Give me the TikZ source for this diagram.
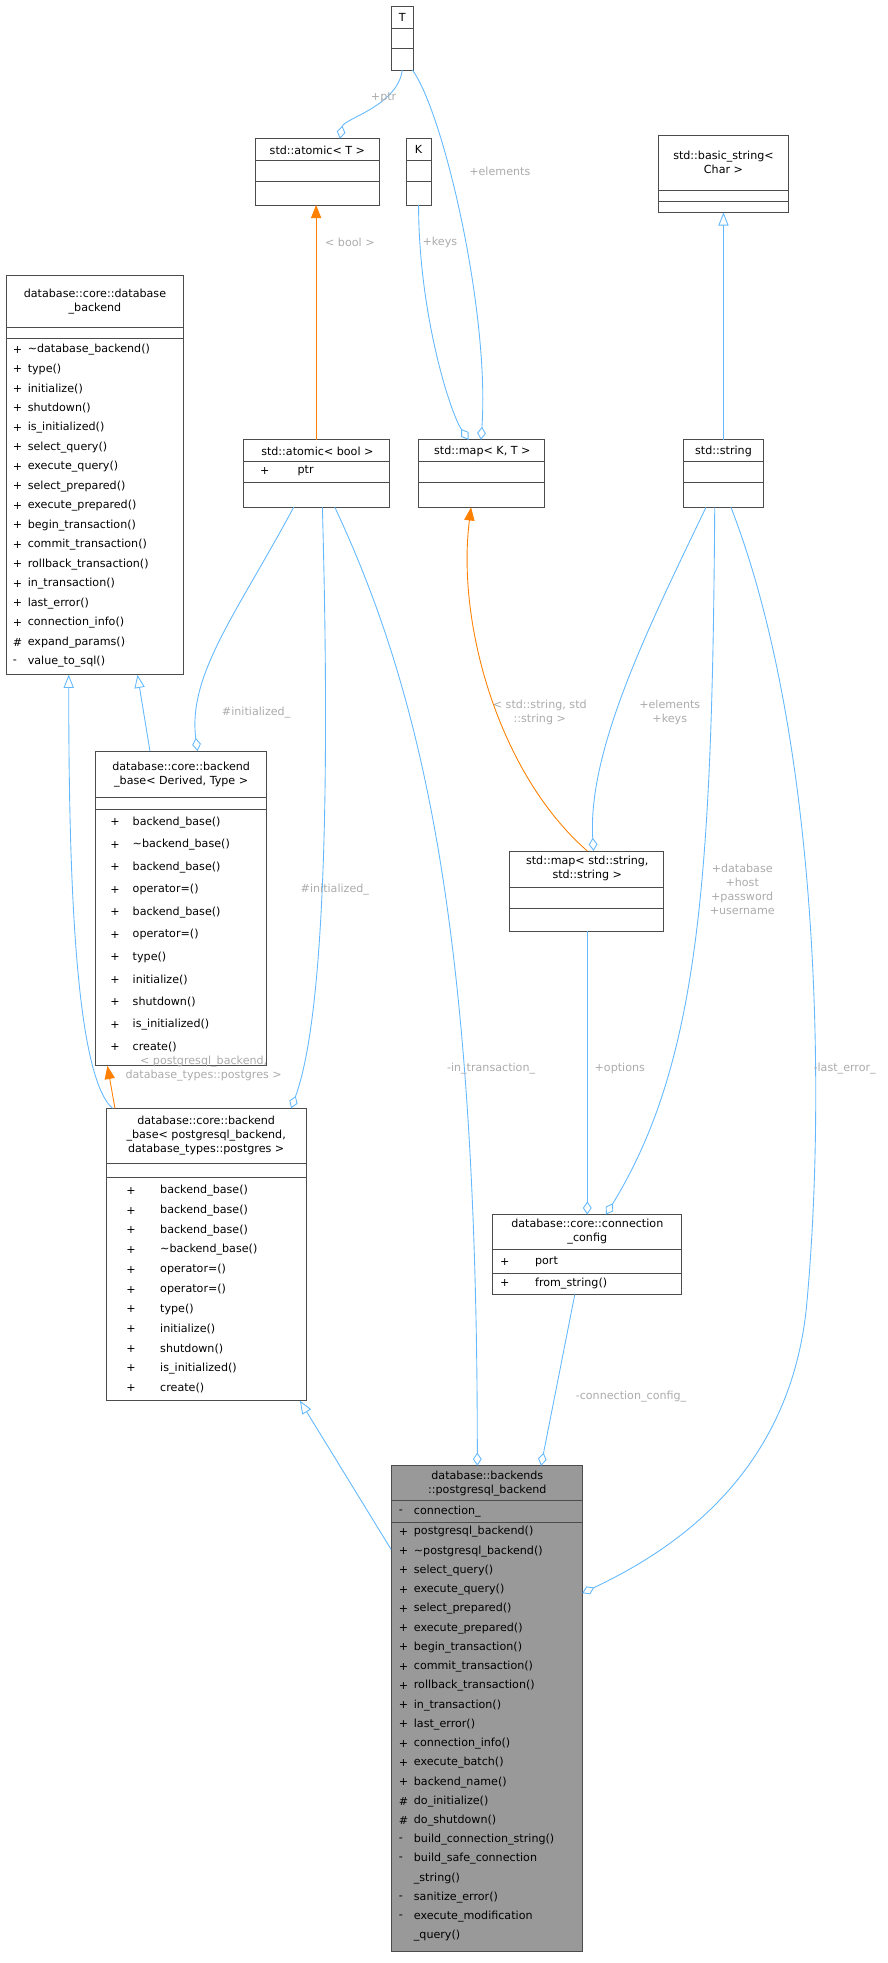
\documentclass[tikz,border=0pt]{standalone}
\usepackage{fontspec}
\setmainfont{DejaVu Sans}
\usetikzlibrary{arrows.meta,fit}
\definecolor{edgeblue}{HTML}{63B8FF}
\definecolor{lblgray}{HTML}{ABABAB}
\definecolor{boxgray}{HTML}{999999}
\tikzset{
  cbox/.style={draw=black!70, inner sep=0pt, line width=0.5pt},
  ttl/.style={font=\fontsize{7.6}{9.6}\selectfont, align=center, inner sep=0pt},
  mem/.style={font=\fontsize{7.6}{9.6}\selectfont, anchor=west, inner sep=0pt},
  lbl/.style={font=\fontsize{7.6}{9.6}\selectfont, text=lblgray, align=center, inner sep=1pt},
  uses/.style={draw=edgeblue, line width=0.6pt, -{Diamond[open, length=9pt, width=6pt]}},
  inherit/.style={draw=edgeblue, line width=0.6pt, -{Triangle[open, length=9pt, width=7pt]}},
  tmpl/.style={draw=orange, line width=0.6pt, -{Triangle[length=9pt, width=7pt]}},
}
\begin{document}
\begin{tikzpicture}[x=0.03cm, y=-0.03cm]
\useasboundingbox (0,0) rectangle (710,1571);

% Class boxes
\node[cbox, fit={(313,5) (331,56)}] (T) {};
\draw[black!70] (313,23) -- (331,23) (313,39) -- (331,39);
\node[ttl] at (322,14) {T};

\node[cbox, fit={(325,111) (345,164)}] (K) {};
\draw[black!70] (325,128) -- (345,128) (325,145) -- (345,145);
\node[ttl] at (335,120) {K};

\node[cbox, fit={(204,111) (304,164)}] (atomicT) {};
\draw[black!70] (204,128) -- (304,128) (204,145) -- (304,145);
\node[ttl] at (254,120) {std::atomic< T >};

\node[cbox, fit={(527,108) (631,170)}] (basicstr) {};
\draw[black!70] (527,152) -- (631,152) (527,161) -- (631,161);
\node[ttl] at (579,130) {std::basic\_string<\\Char >};

\node[cbox, fit={(5,220) (147,540)}] (dbbackend) {};
\draw[black!70] (5,262) -- (147,262) (5,271) -- (147,271);
\node[ttl] at (76,241) {database::core::database\\\_backend};
\foreach \s/\m [count=\i from 0] in {+/\textasciitilde database\_backend(), +/type(), +/initialize(), +/shutdown(),
  +/is\_initialized(), +/select\_query(), +/execute\_query(), +/select\_prepared(), +/execute\_prepared(),
  +/begin\_transaction(), +/commit\_transaction(), +/rollback\_transaction(), +/in\_transaction(),
  +/last\_error(), +/connection\_info(), \#/expand\_params(), -/value\_to\_sql()} {
  \node[mem] at (10,{280+\i*15.6}) {\s};
  \node[mem] at (22,{280+\i*15.6}) {\m};
}

\node[cbox, fit={(195,352) (312,406)}] (atomicbool) {};
\draw[black!70] (195,369) -- (312,369) (195,386) -- (312,386);
\node[ttl] at (254,361) {std::atomic< bool >};
\node[mem] at (208,377) {+};
\node[mem] at (238,377) {ptr};

\node[cbox, fit={(335,352) (436,406)}] (mapKT) {};
\draw[black!70] (335,369) -- (436,369) (335,386) -- (436,386);
\node[ttl] at (386,361) {std::map< K, T >};

\node[cbox, fit={(547,352) (611,406)}] (stdstring) {};
\draw[black!70] (547,369) -- (611,369) (547,386) -- (611,386);
\node[ttl] at (579,361) {std::string};

\node[cbox, fit={(76,601) (213,853)}] (basebase) {};
\draw[black!70] (76,638) -- (213,638) (76,648) -- (213,648);
\node[ttl] at (145,620) {database::core::backend\\\_base< Derived, Type >};
\foreach \s/\m [count=\i from 0] in {+/backend\_base(), +/\textasciitilde backend\_base(), +/backend\_base(),
  +/operator=(), +/backend\_base(), +/operator=(), +/type(), +/initialize(), +/shutdown(),
  +/is\_initialized(), +/create()} {
  \node[mem] at (88,{658+\i*18}) {\s};
  \node[mem] at (106,{658+\i*18}) {\m};
}

\node[cbox, fit={(408,681) (531,745)}] (mapstr) {};
\draw[black!70] (408,710) -- (531,710) (408,727) -- (531,727);
\node[ttl] at (470,695) {std::map< std::string,\\std::string >};

\node[cbox, fit={(85,887) (245,1121)}] (pgbase) {};
\draw[black!70] (85,931) -- (245,931) (85,942) -- (245,942);
\node[ttl] at (165,909) {database::core::backend\\\_base< postgresql\_backend,\\database\_types::postgres >};
\foreach \s/\m [count=\i from 0] in {+/backend\_base(), +/backend\_base(), +/backend\_base(),
  +/\textasciitilde backend\_base(), +/operator=(), +/operator=(), +/type(), +/initialize(),
  +/shutdown(), +/is\_initialized(), +/create()} {
  \node[mem] at (101,{953+\i*15.8}) {\s};
  \node[mem] at (128,{953+\i*15.8}) {\m};
}

\node[cbox, fit={(394,972) (545,1036)}] (connconfig) {};
\draw[black!70] (394,1000) -- (545,1000) (394,1019) -- (545,1019);
\node[ttl] at (470,986) {database::core::connection\\\_config};
\node[mem] at (400,1010) {+};
\node[mem] at (428,1010) {port};
\node[mem] at (400,1027) {+};
\node[mem] at (428,1027) {from\_string()};

\node[cbox, fill=boxgray, fit={(313,1173) (466,1562)}] (pgbackend) {};
\draw[black!70] (313,1201) -- (466,1201) (313,1218) -- (466,1218);
\node[ttl] at (390,1187) {database::backends\\::postgresql\_backend};
\node[mem] at (319,1210) {-};
\node[mem] at (331,1210) {connection\_};
\foreach \s/\m [count=\i from 0] in {+/postgresql\_backend(), +/\textasciitilde postgresql\_backend(),
  +/select\_query(), +/execute\_query(), +/select\_prepared(), +/execute\_prepared(),
  +/begin\_transaction(), +/commit\_transaction(), +/rollback\_transaction(), +/in\_transaction(),
  +/last\_error(), +/connection\_info(), +/execute\_batch(), +/backend\_name(), \#/do\_initialize(),
  \#/do\_shutdown(), -/build\_connection\_string(), -/build\_safe\_connection, {}/\_string(),
  -/sanitize\_error(), -/execute\_modification, {}/\_query()} {
  \node[mem] at (319,{1226+\i*15.4}) {\s};
  \node[mem] at (331,{1226+\i*15.4}) {\m};
}

% Connectors
\draw[uses] (322,56) .. controls (318,85) and (275,95) .. (272,111);
\node[lbl] at (307,78) {+ptr};
\draw[uses] (330,56) .. controls (355,90) and (392,250) .. (385,352);
\node[lbl] at (400,137) {+elements};
\draw[uses] (335,164) .. controls (335,250) and (360,330) .. (375,352);
\node[lbl] at (352,194) {+keys};
\draw[tmpl] (253,352) -- (253,164);
\node[lbl] at (280,194) {< bool >};
\draw[inherit] (579,352) -- (579,170);
\draw[inherit] (120,601) -- (110,540);
\draw[inherit] (90,887) .. controls (60,860) and (55,700) .. (55,540);
\draw[tmpl] (92,887) -- (86,853);
\node[lbl] at (163,855) {< postgresql\_backend,\\database\_types::postgres >};
\draw[uses] (235,406) .. controls (190,490) and (150,540) .. (158,601);
\node[lbl] at (205,570) {\#initialized\_};
\draw[uses] (258,406) .. controls (262,550) and (265,800) .. (233,887);
\node[lbl] at (268,712) {\#initialized\_};
\draw[uses] (268,406) .. controls (340,560) and (382,750) .. (382,1173);
\node[lbl] at (393,855) {-in\_transaction\_};
\draw[tmpl] (470,681) .. controls (400,620) and (365,500) .. (377,406);
\node[lbl] at (432,570) {< std::string, std\\::string >};
\draw[uses] (565,406) .. controls (520,500) and (470,600) .. (475,681);
\node[lbl] at (536,570) {+elements\\+keys};
\draw[uses] (572,406) .. controls (570,700) and (560,850) .. (485,972);
\node[lbl] at (594,712) {+database\\+host\\+password\\+username};
\draw[uses] (470,745) -- (470,972);
\node[lbl] at (496,855) {+options};
\draw[uses] (585,406) .. controls (660,600) and (660,900) .. (645,1050) .. controls (630,1180) and (540,1240) .. (466,1275);
\node[lbl] at (676,855) {-last\_error\_};
\draw[uses] (460,1036) -- (433,1173);
\node[lbl] at (505,1118) {-connection\_config\_};
\draw[inherit] (313,1240) -- (240,1121);
\end{tikzpicture}
\end{document}
